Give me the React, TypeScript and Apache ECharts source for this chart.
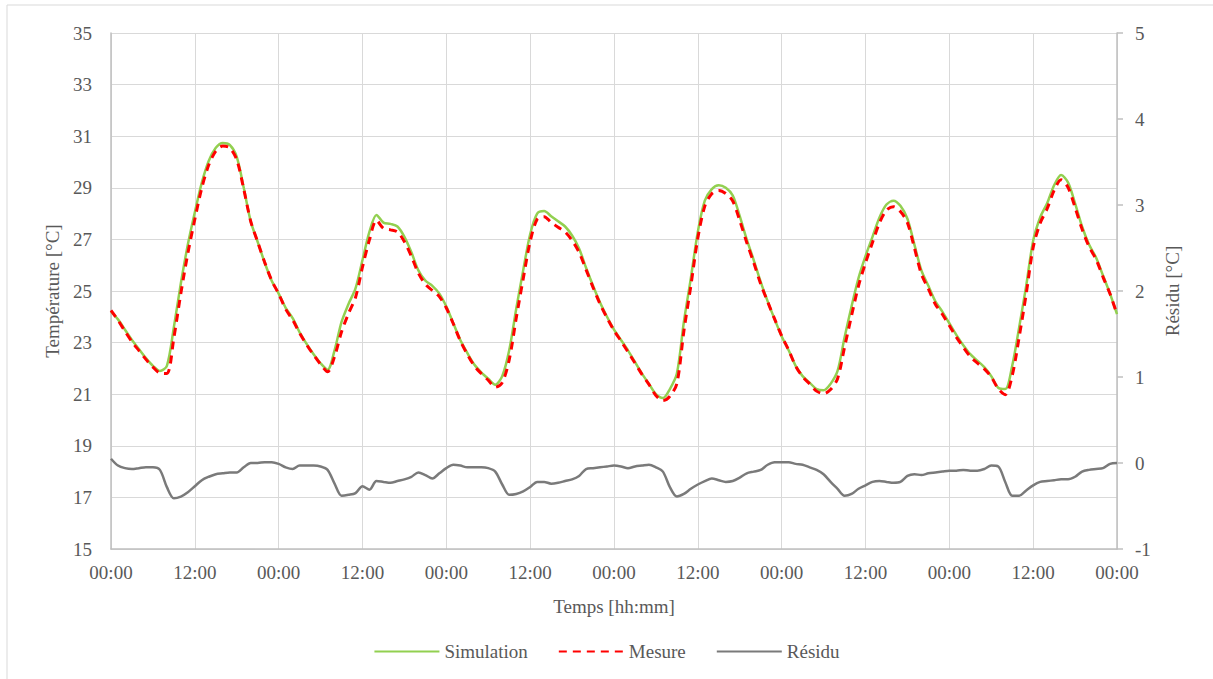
import React, { useEffect, useRef } from "react";
import * as echarts from "echarts";

// Time grid in hours (6 days, hourly samples)
const hours: number[] = Array.from({ length: 145 }, (_, i) => i);

const xTickLabels = ["00:00", "12:00"];

const simulation: number[] = [
  24.2, 23.9, 23.5, 23.1, 22.75, 22.4, 22.1, 21.9, 22.1, 23.6, 25.3, 26.8, 28.05, 29.2, 30.05, 30.55, 30.74, 30.66, 30.2, 29.0, 27.7, 26.9, 26.1, 25.4,
  24.9, 24.35, 23.95, 23.4, 22.95, 22.55, 22.2, 21.95, 22.7, 23.8, 24.5, 25.1, 26.2, 27.3, 27.95, 27.65, 27.6, 27.5, 27.1, 26.5, 25.8, 25.4, 25.2, 24.9,
  24.4, 23.75, 23.1, 22.6, 22.15, 21.85, 21.6, 21.37, 21.7, 22.7, 24.3, 25.8, 27.2, 28.0, 28.1, 27.9, 27.7, 27.5, 27.15, 26.65, 25.9, 25.2, 24.55, 24.0,
  23.5, 23.1, 22.7, 22.25, 21.8, 21.4, 21.0, 20.85, 21.2, 21.8, 23.8, 25.5, 27.3, 28.5, 28.95, 29.1, 29.0, 28.7, 27.9, 27.0, 26.2, 25.35, 24.6, 23.9,
  23.25, 22.7, 22.1, 21.7, 21.45, 21.2, 21.15, 21.4, 21.9, 23.2, 24.4, 25.5, 26.35, 27.1, 27.85, 28.35, 28.5, 28.3, 27.8, 26.8, 25.8, 25.2, 24.6, 24.2,
  23.75, 23.3, 22.9, 22.55, 22.3, 22.05, 21.7, 21.25, 21.2, 22.1, 23.6, 25.2, 26.95, 27.85, 28.4, 29.1, 29.5, 29.2, 28.4, 27.5, 26.8, 26.3, 25.6, 24.9,
  24.1,
];

const mesure: number[] = [
  24.25, 23.87, 23.44, 23.03, 22.69, 22.35, 22.05, 21.82, 21.8, 23.19, 24.91, 26.46, 27.78, 29.0, 29.89, 30.42, 30.62, 30.55, 30.09, 28.95, 27.7, 26.9, 26.11, 25.41,
  24.89, 24.3, 23.88, 23.37, 22.92, 22.52, 22.16, 21.87, 22.46, 23.42, 24.13, 24.75, 25.93, 26.99, 27.74, 27.43, 27.37, 27.29, 26.91, 26.34, 25.69, 25.26, 25.02, 24.78,
  24.34, 23.73, 23.07, 22.55, 22.1, 21.8, 21.54, 21.27, 21.45, 22.33, 23.94, 25.47, 26.92, 27.78, 27.88, 27.66, 27.47, 27.29, 26.96, 26.5, 25.83, 25.14, 24.5, 23.96,
  23.47, 23.06, 22.64, 22.21, 21.77, 21.38, 20.95, 20.75, 20.92, 21.41, 23.44, 25.2, 27.05, 28.29, 28.77, 28.9, 28.78, 28.49, 27.73, 26.88, 26.1, 25.27, 24.58, 23.91,
  23.26, 22.71, 22.09, 21.68, 21.4, 21.12, 21.02, 21.18, 21.6, 22.82, 24.04, 25.2, 26.09, 26.88, 27.64, 28.13, 28.27, 28.08, 27.65, 26.67, 25.66, 25.08, 24.49, 24.1,
  23.66, 23.21, 22.82, 22.46, 22.21, 21.98, 21.67, 21.21, 20.98, 21.72, 23.22, 24.88, 26.69, 27.63, 28.19, 28.9, 29.31, 29.01, 28.24, 27.4, 26.72, 26.23, 25.54, 24.89,
  24.1,
];

const residu: number[] = [
  0.05, -0.03, -0.06, -0.07, -0.06, -0.05, -0.05, -0.08, -0.28, -0.41, -0.39, -0.34, -0.27, -0.2, -0.16, -0.13, -0.12, -0.11, -0.11, -0.05, 0.0, 0.0, 0.01, 0.01,
  -0.01, -0.05, -0.07, -0.03, -0.03, -0.03, -0.04, -0.08, -0.24, -0.38, -0.37, -0.35, -0.27, -0.31, -0.21, -0.22, -0.23, -0.21, -0.19, -0.16, -0.11, -0.14, -0.18, -0.12,
  -0.06, -0.02, -0.03, -0.05, -0.05, -0.05, -0.06, -0.1, -0.25, -0.37, -0.36, -0.33, -0.28, -0.22, -0.22, -0.24, -0.23, -0.21, -0.19, -0.15, -0.07, -0.06, -0.05, -0.04,
  -0.03, -0.04, -0.06, -0.04, -0.03, -0.02, -0.05, -0.1, -0.28, -0.39, -0.36, -0.3, -0.25, -0.21, -0.18, -0.2, -0.22, -0.21, -0.17, -0.12, -0.1, -0.08, -0.02, 0.01,
  0.01, 0.01, -0.01, -0.02, -0.05, -0.08, -0.13, -0.22, -0.3, -0.38, -0.36, -0.3, -0.26, -0.22, -0.21, -0.22, -0.23, -0.22, -0.15, -0.13, -0.14, -0.12, -0.11, -0.1,
  -0.09, -0.09, -0.08, -0.09, -0.09, -0.07, -0.03, -0.04, -0.22, -0.38, -0.38, -0.32, -0.26, -0.22, -0.21, -0.2, -0.19, -0.19, -0.16, -0.1, -0.08, -0.07, -0.06, -0.01,
  0.0,
];

const FONT = "Liberation Serif, DejaVu Serif, serif";
const TEXT = "#595959";

export default function App() {
  const ref = useRef<HTMLDivElement>(null);
  useEffect(() => {
    document.body.style.margin = "0";
    if (!ref.current) return;
    const chart = echarts.init(ref.current, null, { renderer: "svg" });
    const pair = (arr: number[]) => hours.map((h, i) => [h, arr[i]]);
    chart.setOption({
      animation: false,
      backgroundColor: "#ffffff",
      textStyle: { fontFamily: FONT, color: TEXT },
      graphic: [
        {
          type: "rect",
          shape: { x: 7, y: 5, width: 1260, height: 720 },
          style: { fill: "none", stroke: "#d9d9d9", lineWidth: 1 },
          silent: true,
        },
      ],
      grid: { left: 111, right: 96, top: 33, bottom: 130, containLabel: false },
      legend: {
        left: "center",
        top: 637,
        itemWidth: 65,
        itemHeight: 12,
        itemGap: 30,
        itemStyle: { opacity: 0 },
        textStyle: { fontFamily: FONT, fontSize: 19, color: TEXT },
        data: ["Simulation", "Mesure", "Résidu"],
      },
      xAxis: {
        type: "value",
        min: 0,
        max: 144,
        interval: 12,
        name: "Temps [hh:mm]",
        nameLocation: "middle",
        nameGap: 48,
        nameTextStyle: { fontFamily: FONT, fontSize: 19, color: TEXT },
        axisLine: { show: true, onZero: false, lineStyle: { color: "#bfbfbf", width: 1.5 } },
        axisTick: { show: false },
        axisLabel: {
          fontFamily: FONT,
          fontSize: 19,
          color: TEXT,
          margin: 14,
          formatter: (v: number) => xTickLabels[Math.round(v / 12) % 2],
        },
        splitLine: { show: true, lineStyle: { color: "#d9d9d9", width: 1 } },
      },
      yAxis: [
        {
          type: "value",
          min: 15,
          max: 35,
          interval: 2,
          position: "left",
          name: "Température [°C]",
          nameLocation: "middle",
          nameGap: 44,
          nameTextStyle: { fontFamily: FONT, fontSize: 19, color: TEXT },
          axisLine: { show: true, lineStyle: { color: "#bfbfbf", width: 1.5 } },
          axisTick: { show: false },
          axisLabel: { fontFamily: FONT, fontSize: 19, color: TEXT, margin: 19 },
          splitLine: { show: true, lineStyle: { color: "#d9d9d9", width: 1 } },
        },
        {
          type: "value",
          min: -1,
          max: 5,
          interval: 1,
          position: "right",
          name: "Résidu [°C]",
          nameLocation: "middle",
          nameGap: 46,
          nameTextStyle: { fontFamily: FONT, fontSize: 19, color: TEXT },
          axisLine: { show: true, lineStyle: { color: "#bfbfbf", width: 1.5 } },
          axisTick: { show: true, inside: false, length: 6, lineStyle: { color: "#bfbfbf", width: 1.5 } },
          axisLabel: { fontFamily: FONT, fontSize: 19, color: TEXT, margin: 18 },
          splitLine: { show: false },
        },
      ],
      series: [
        {
          name: "Simulation",
          type: "line",
          yAxisIndex: 0,
          data: pair(simulation),
          showSymbol: false,
          symbol: "none",
          smooth: 0.3,
          lineStyle: { color: "#92d050", width: 2.5 },
          itemStyle: { color: "#92d050" },
          z: 2,
        },
        {
          name: "Mesure",
          type: "line",
          yAxisIndex: 0,
          data: pair(mesure),
          showSymbol: false,
          symbol: "none",
          smooth: 0.3,
          lineStyle: { color: "#ff0000", width: 3, type: [8, 6] },
          itemStyle: { color: "#ff0000" },
          z: 3,
        },
        {
          name: "Résidu",
          type: "line",
          yAxisIndex: 1,
          data: pair(residu),
          showSymbol: false,
          symbol: "none",
          smooth: 0.3,
          lineStyle: { color: "#7a7a7a", width: 2.5 },
          itemStyle: { color: "#7a7a7a" },
          z: 4,
        },
      ],
    });
    return () => chart.dispose();
  }, []);
  return <div ref={ref} style={{ width: 1213, height: 679 }} />;
}
